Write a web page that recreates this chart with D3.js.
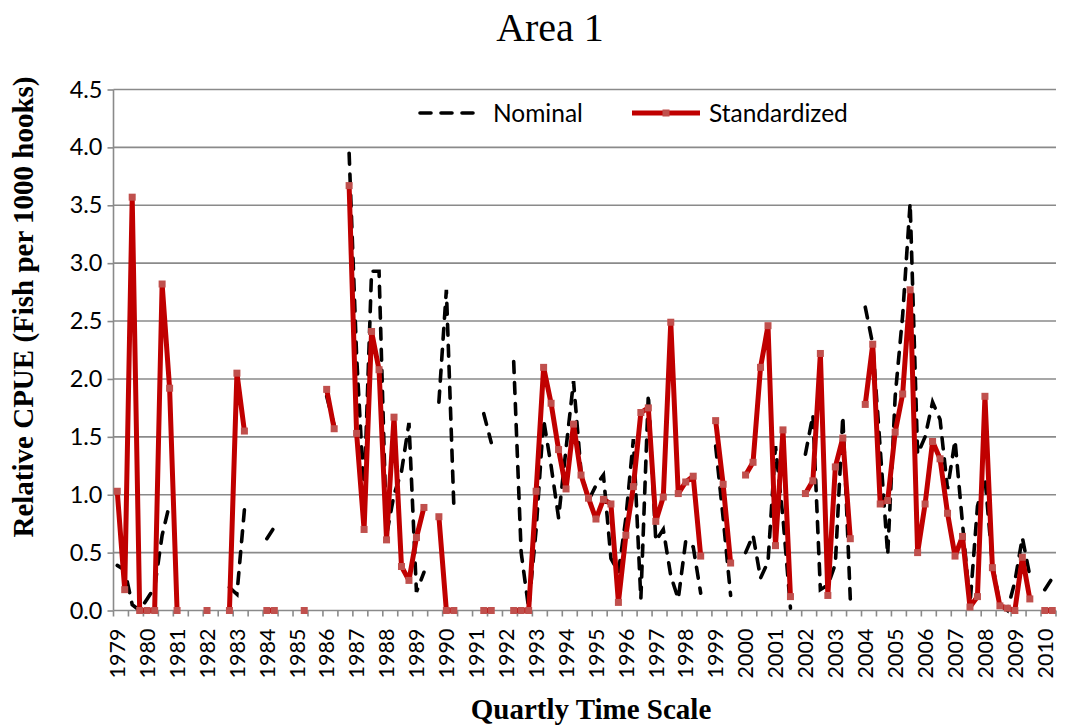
<!DOCTYPE html>
<html>
<head>
<meta charset="utf-8">
<script src="https://cdn.jsdelivr.net/npm/d3@7"></script>
<style>
  body { margin: 0; background: #fff; }
  svg { display: block; }
</style>
</head>
<body>
<svg id="chart"></svg>
<script>
// quarterly categories, 1979 Q1 .. 2010 Q2
const years = d3.range(1979, 2011);
const quarterNames = ["Q1", "Q2", "Q3", "Q4"];

// values per year, four quarters each (null = no data)
const standardized = [
  1.03, 0.18, 3.57, 0,       // 1979
  0, 0, 2.82, 1.92,          // 1980
  0, null, null, null,       // 1981
  0, null, null, 0,          // 1982
  2.05, 1.55, null, null,    // 1983
  0, 0, null, null,          // 1984
  null, 0, null, null,       // 1985
  1.91, 1.57, null, 3.67,    // 1986
  1.53, 0.70, 2.41, 2.08,    // 1987
  0.61, 1.67, 0.38, 0.26,    // 1988
  0.63, 0.89, null, 0.81,    // 1989
  0, 0, null, null,          // 1990
  null, 0, 0, null,          // 1991
  null, 0, 0, 0,             // 1992
  1.03, 2.10, 1.79, 1.39,    // 1993
  1.05, 1.61, 1.17, 0.97,    // 1994
  0.79, 0.96, 0.92, 0.07,    // 1995
  0.65, 1.07, 1.71, 1.75,    // 1996
  0.77, 0.98, 2.49, 1.01,    // 1997
  1.11, 1.16, 0.47, null,    // 1998
  1.64, 1.09, 0.41, null,    // 1999
  1.17, 1.28, 2.10, 2.46,    // 2000
  0.56, 1.56, 0.12, null,    // 2001
  1.01, 1.12, 2.22, 0.13,    // 2002
  1.24, 1.49, 0.62, null,    // 2003
  1.78, 2.30, 0.92, 0.95,    // 2004
  1.54, 1.87, 2.77, 0.50,    // 2005
  0.92, 1.46, 1.31, 0.84,    // 2006
  0.47, 0.64, 0.03, 0.12,    // 2007
  1.85, 0.37, 0.04, 0.02,    // 2008
  0.00, 0.46, 0.10, null,    // 2009
  0, 0                       // 2010
];

const nominal = [
  0.39, 0.35, 0.05, 0.0,     // 1979
  0.1, 0.2, 0.65, 0.92,      // 1980
  null, null, null, null,    // 1981
  null, null, null, 0.2,     // 1982
  0.14, 0.87, null, null,    // 1983
  0.62, 0.72, null, null,    // 1984
  null, null, null, null,    // 1985
  1.85, 1.6, null, 3.95,     // 1986
  2.2, 1.0, 2.93, 2.93,      // 1987
  0.65, 1.0, 1.2, 1.62,      // 1988
  0.16, 0.33, null, 1.8,     // 1989
  2.77, 0.9, null, null,     // 1990
  null, 1.7, 1.45, null,     // 1991
  null, 2.15, 0.5, 0.02,     // 1992
  0.7, 1.65, 1.25, 0.8,      // 1993
  1.4, 1.98, 1.2, 0.95,      // 1994
  1.08, 1.17, 0.45, 0.33,    // 1995
  0.8, 1.48, 0.1, 1.87,      // 1996
  0.6, 0.7, 0.3, 0.1,        // 1997
  0.6, 0.55, 0.15, null,     // 1998
  1.42, 0.8, 0.13, null,     // 1999
  0.5, 0.65, 0.28, 0.42,     // 2000
  1.42, 0.8, 0.02, null,     // 2001
  1.35, 1.69, 0.18, 0.22,    // 2002
  0.4, 1.68, 0.1, null,      // 2003
  2.62, 2.3, 1.4, 0.48,      // 2004
  1.85, 2.55, 3.52, 1.35,    // 2005
  1.5, 1.8, 1.65, 1.05,      // 2006
  1.47, 0.75, 0.05, 0.9,     // 2007
  1.15, 0.4, 0.05, 0.0,      // 2008
  0.25, 0.63, 0.3, null,     // 2009
  0.18, 0.28                 // 2010
];

const yTicks = [0, 0.5, 1, 1.5, 2, 2.5, 3, 3.5, 4, 4.5];

const W = 1065, H = 726;
const margin = {top: 89.5, right: 9, bottom: 115.5, left: 113.5};

const categories = [];
years.forEach(yr => quarterNames.forEach(q => categories.push(yr + " " + q)));
categories.length = standardized.length;

const svg = d3.select("#chart").attr("width", W).attr("height", H);

const x = d3.scaleBand()
    .domain(categories)
    .range([margin.left, W - margin.right])
    .padding(0);
const y = d3.scaleLinear()
    .domain([0, 4.5])
    .range([H - margin.bottom, margin.top]);

const cx = c => x(c) + x.bandwidth() / 2;
const gridColor = "#8a8a8a";

// gridlines + y axis
const yAxis = svg.append("g")
    .attr("transform", "translate(" + margin.left + ",0)")
    .call(d3.axisLeft(y).tickValues(yTicks).tickFormat(d3.format(".1f")).tickSize(6).tickPadding(5));
yAxis.select(".domain").remove();
yAxis.selectAll(".tick line").attr("stroke", gridColor).attr("stroke-width", 1.6);
yAxis.selectAll(".tick text")
    .attr("font-family", "Lato, sans-serif")
    .attr("font-size", 23.5)
    .attr("fill", "#000");

svg.append("g")
    .selectAll("line")
    .data(yTicks)
    .join("line")
    .attr("x1", margin.left)
    .attr("x2", W - margin.right)
    .attr("y1", d => y(d))
    .attr("y2", d => y(d))
    .attr("stroke", gridColor)
    .attr("stroke-width", 1.6);

svg.append("line")
    .attr("x1", margin.left).attr("x2", margin.left)
    .attr("y1", y(4.5)).attr("y2", y(0))
    .attr("stroke", gridColor).attr("stroke-width", 1.6);

// x axis: ticks every second quarter, year label every fourth
const tickCats = categories.filter((c, i) => i % 2 === 0);
svg.append("g")
    .selectAll("line")
    .data(tickCats)
    .join("line")
    .attr("x1", d => x(d)).attr("x2", d => x(d))
    .attr("y1", y(0)).attr("y2", y(0) + 6)
    .attr("stroke", gridColor).attr("stroke-width", 1.6);
svg.append("line")
    .attr("x1", W - margin.right).attr("x2", W - margin.right)
    .attr("y1", y(0)).attr("y2", y(0) + 6)
    .attr("stroke", gridColor).attr("stroke-width", 1.6);

svg.append("g")
    .attr("font-family", "Lato, sans-serif")
    .attr("font-size", 21.5)
    .selectAll("text")
    .data(categories.filter((c, i) => i % 4 === 0))
    .join("text")
    .attr("transform", d => "translate(" + cx(d) + "," + (y(0) + 18) + ") rotate(-90)")
    .attr("text-anchor", "end")
    .attr("dy", "0.36em")
    .text(d => d.split(" ")[0]);

// series lines
const line = d3.line()
    .defined(d => d.v !== null)
    .x(d => cx(d.c))
    .y(d => y(d.v));

const nomData = categories.map((c, i) => ({c: c, v: nominal[i]}));
const stdData = categories.map((c, i) => ({c: c, v: standardized[i]}));

svg.append("path")
    .datum(nomData)
    .attr("fill", "none")
    .attr("stroke", "#000")
    .attr("stroke-width", 3.6)
    .attr("stroke-dasharray", "11,10")
    .attr("stroke-linecap", "round")
    .attr("d", line);

svg.append("path")
    .datum(stdData)
    .attr("fill", "none")
    .attr("stroke", "#c00000")
    .attr("stroke-width", 5)
    .attr("stroke-linejoin", "round")
    .attr("d", line);

svg.append("g")
    .selectAll("rect")
    .data(stdData.filter(d => d.v !== null))
    .join("rect")
    .attr("x", d => cx(d.c) - 3.5)
    .attr("y", d => y(d.v) - 3.5)
    .attr("width", 7)
    .attr("height", 7)
    .attr("fill", "#c0504d");

// legend
const legend = svg.append("g")
    .attr("font-family", "Lato, sans-serif")
    .attr("font-size", 24.5);
legend.append("line")
    .attr("x1", 420).attr("x2", 476).attr("y1", 113).attr("y2", 113)
    .attr("stroke", "#000").attr("stroke-width", 3.6)
    .attr("stroke-dasharray", "11,10").attr("stroke-linecap", "round");
legend.append("text").attr("x", 493).attr("y", 113).attr("dy", "0.35em").text("Nominal");
legend.append("line")
    .attr("x1", 632).attr("x2", 700).attr("y1", 113).attr("y2", 113)
    .attr("stroke", "#c00000").attr("stroke-width", 5);
legend.append("rect")
    .attr("x", 662.5).attr("y", 109.5).attr("width", 7).attr("height", 7)
    .attr("fill", "#c0504d");
legend.append("text").attr("x", 709).attr("y", 113).attr("dy", "0.35em").text("Standardized");

// titles
svg.append("text")
    .attr("x", 550).attr("y", 41)
    .attr("text-anchor", "middle")
    .attr("font-family", "'Liberation Serif', serif")
    .attr("font-size", 40)
    .text("Area 1");

svg.append("text")
    .attr("x", 591).attr("y", 719)
    .attr("text-anchor", "middle")
    .attr("font-family", "'Liberation Serif', serif")
    .attr("font-weight", "bold")
    .attr("font-size", 29)
    .text("Quartly Time Scale");

svg.append("text")
    .attr("transform", "translate(33,307) rotate(-90)")
    .attr("text-anchor", "middle")
    .attr("font-family", "'Liberation Serif', serif")
    .attr("font-weight", "bold")
    .attr("font-size", 29)
    .text("Relative CPUE (Fish per 1000 hooks)");
</script>
</body>
</html>
